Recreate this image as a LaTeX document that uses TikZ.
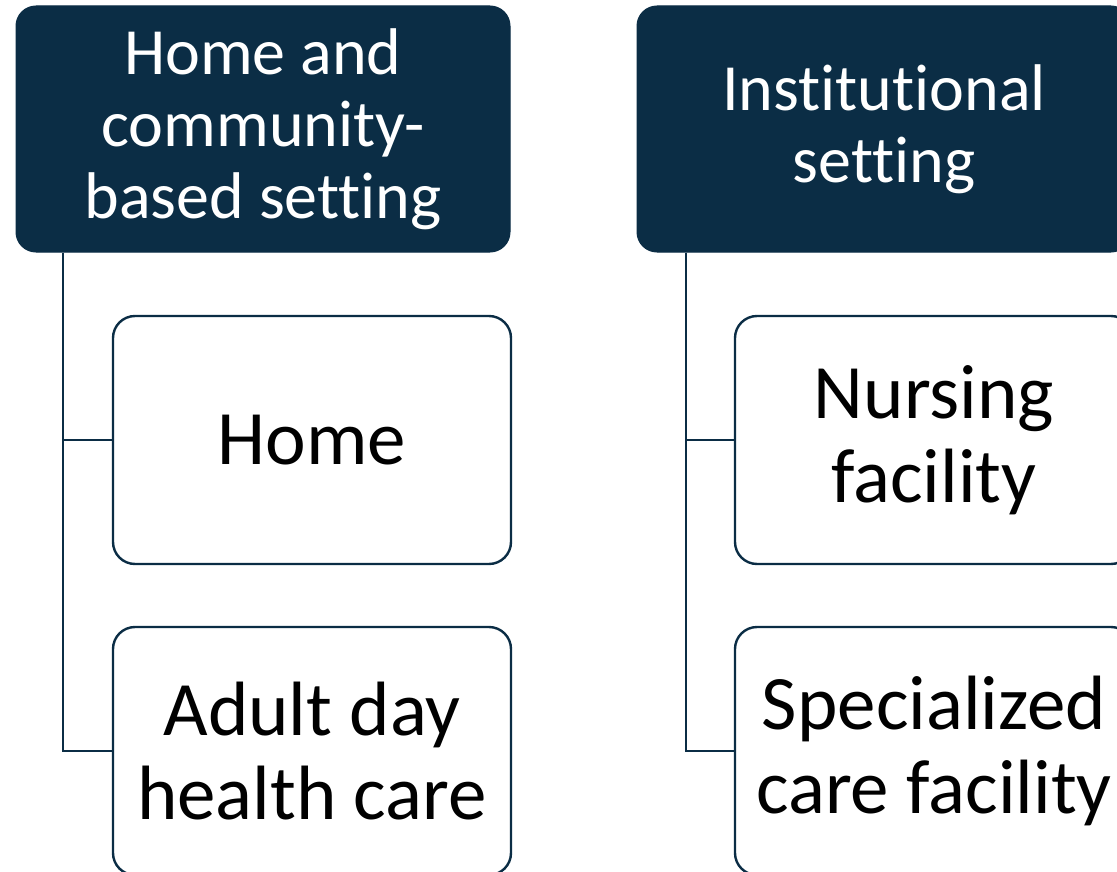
\documentclass[tikz,border=0pt]{standalone}
\usepackage{fontspec}
\setmainfont{Carlito}[Ligatures={NoCommon}]
\definecolor{navy}{HTML}{0B2D45}
\begin{document}
\begin{tikzpicture}[x=1pt,y=-1pt,
  header/.style={draw=navy,fill=navy,rounded corners=20pt,line width=1pt,
    text=white,align=center,font=\fontsize{66}{72}\selectfont,
    minimum width=494pt,minimum height=246pt,inner sep=0pt},
  child/.style={draw=navy,fill=white,rounded corners=22pt,line width=2.4pt,
    text=black,align=center,font=\fontsize{77}{84}\selectfont,
    minimum width=398pt,minimum height=248pt,inner sep=0pt},
  link/.style={draw=navy,line width=2.2pt}]
\useasboundingbox (0,0) rectangle (1117,872);
\clip (0,0) rectangle (1117,872);
% left column
\node[header] (hcb) at (263,129) {Home and\\community-\\based setting};
\node[child] (home) at (312,440) {Home};
\node[child] (adhc) at (312,751) {Adult day\\health care};
% right column
\node[header] (inst) at (884,129) {Institutional\\setting};
\node[child] (nf) at (934,440) {Nursing\\facility};
\node[child] (scf) at (934,751) {Specialized\\care facility};
% tree connectors
\coordinate (lt) at (63,0);
\draw[link] (hcb.south -| lt) |- (home.west);
\draw[link] (hcb.south -| lt) |- (adhc.west);
\coordinate (rt) at (686,0);
\draw[link] (inst.south -| rt) |- (nf.west);
\draw[link] (inst.south -| rt) |- (scf.west);
\end{tikzpicture}
\end{document}
